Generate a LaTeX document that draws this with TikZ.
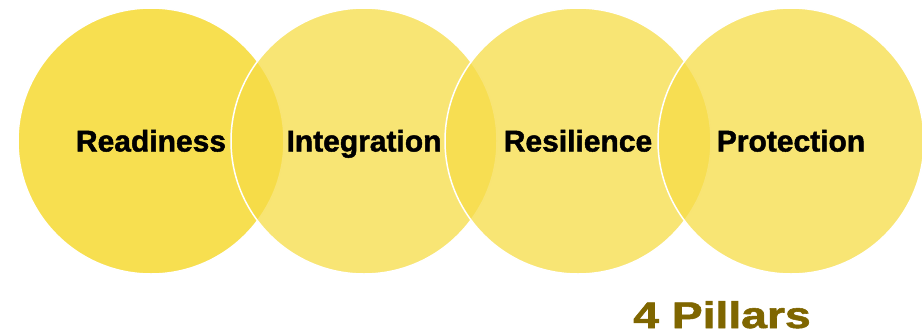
\documentclass[tikz,border=0pt]{standalone}
\usepackage{fontspec}
\setmainfont{Liberation Sans}
\newfontfamily\heavyfont[FakeBold=1.5]{Liberation Sans Bold}
\usepackage{graphicx}
\usetikzlibrary{positioning}

\definecolor{pillarfill}{RGB}{246,220,70}
\definecolor{firstfill}{RGB}{247,223,80}
\definecolor{titlebrown}{RGB}{127,102,0}

\begin{document}
\begin{tikzpicture}[x=1pt, y=-1pt,
    pillar/.style={circle, minimum size=266pt, inner sep=0pt,
      fill=pillarfill, fill opacity=0.75, text opacity=1,
      draw=white, line width=1.5pt,
      text height=21pt, text depth=0pt,
      font=\fontsize{30}{34}\heavyfont},
    title/.style={anchor=base, inner sep=0pt, text=titlebrown,
      font=\fontsize{37}{44}\heavyfont}]
    \useasboundingbox (0,0) rectangle (922,335);

    % the four overlapping circles
    \node[pillar, fill=firstfill, fill opacity=1] (ready) at (151,141) {Readiness};
    \node[pillar] (integ) at (364,141) {Integration};
    \node[pillar] (resil) at (578,141) {Resilience};
    \node[pillar] (prot) at (791,141) {Protection};

    % caption
    \node[title] (pillars) at (722,328) {\scalebox{1.25}[1]{4 Pillars}};

  \end{tikzpicture}
\end{document}
